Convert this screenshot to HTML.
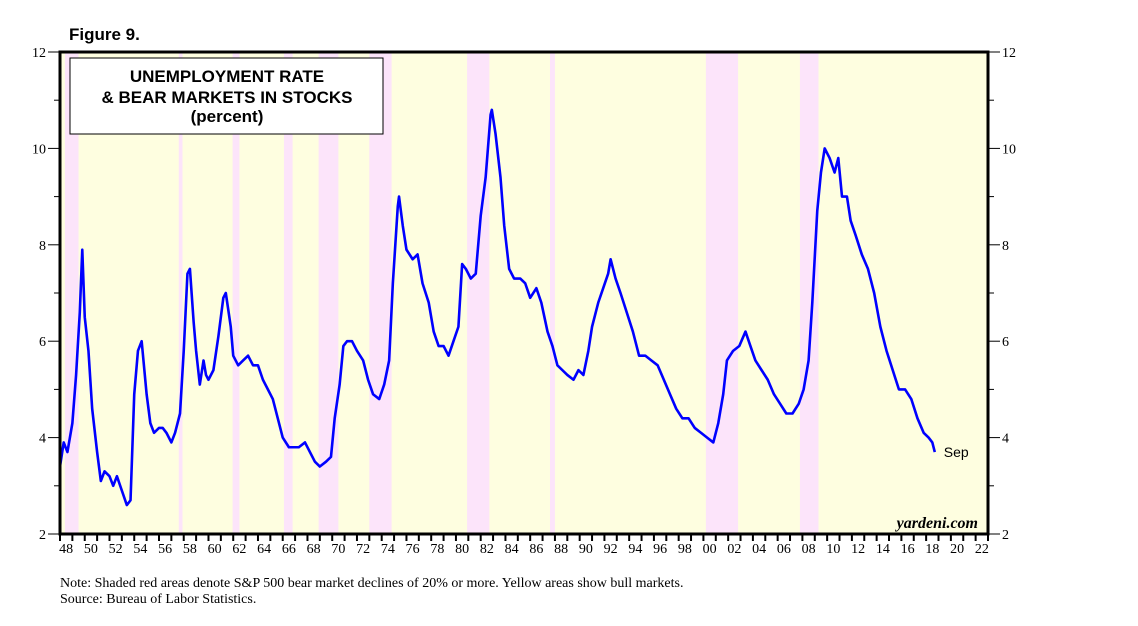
<!DOCTYPE html>
<html><head><meta charset="utf-8"><style>
body{margin:0;background:#fff;width:1138px;height:621px;overflow:hidden}
svg text{font-family:"Liberation Serif",serif}
</style></head><body>
<svg width="1138" height="621">
<script>
const bearStarts=[1948.4,1957.6,1961.95,1966.1,1968.9,1973.0,1980.9,1987.6,2000.2,2007.8];
const bearEnds=[1949.5,1957.9,1962.5,1966.8,1970.5,1974.8,1982.7,1988.0,2002.8,2009.3];
const years=[1948.0,1948.3,1948.6,1949.0,1949.3,1949.6,1949.8,1950.0,1950.3,1950.6,1951.0,1951.3,1951.6,1952.0,1952.3,1952.6,1953.0,1953.4,1953.7,1954.0,1954.3,1954.6,1955.0,1955.3,1955.6,1956.0,1956.3,1956.6,1957.0,1957.3,1957.7,1958.0,1958.3,1958.5,1958.8,1959.0,1959.3,1959.6,1959.8,1960.0,1960.4,1960.8,1961.2,1961.4,1961.8,1962.0,1962.4,1962.8,1963.2,1963.6,1964.0,1964.4,1964.8,1965.2,1965.6,1966.0,1966.5,1966.9,1967.3,1967.8,1968.2,1968.6,1969.0,1969.5,1969.9,1970.2,1970.6,1970.9,1971.2,1971.6,1972.0,1972.5,1972.9,1973.3,1973.8,1974.2,1974.6,1974.9,1975.3,1975.4,1975.7,1976.0,1976.5,1976.9,1977.3,1977.8,1978.2,1978.6,1979.0,1979.4,1979.8,1980.2,1980.5,1980.8,1981.2,1981.6,1982.0,1982.4,1982.8,1982.9,1983.2,1983.6,1983.9,1984.3,1984.7,1985.2,1985.6,1986.0,1986.5,1986.9,1987.4,1987.8,1988.2,1988.6,1989.0,1989.5,1989.9,1990.3,1990.7,1991.0,1991.5,1991.9,1992.3,1992.5,1992.9,1993.3,1993.8,1994.3,1994.8,1995.3,1995.8,1996.3,1996.8,1997.3,1997.8,1998.3,1998.8,1999.3,1999.8,2000.3,2000.8,2001.2,2001.6,2001.9,2002.4,2002.9,2003.4,2003.8,2004.2,2004.7,2005.2,2005.7,2006.2,2006.7,2007.2,2007.7,2008.1,2008.5,2008.8,2009.2,2009.5,2009.8,2010.2,2010.6,2010.9,2011.2,2011.6,2011.9,2012.3,2012.8,2013.3,2013.8,2014.3,2014.8,2015.3,2015.8,2016.3,2016.8,2017.3,2017.8,2018.2,2018.5,2018.7];
const rates=[3.4,3.9,3.7,4.3,5.3,6.6,7.9,6.5,5.8,4.6,3.7,3.1,3.3,3.2,3.0,3.2,2.9,2.6,2.7,4.9,5.8,6.0,4.9,4.3,4.1,4.2,4.2,4.1,3.9,4.1,4.5,5.8,7.4,7.5,6.4,5.8,5.1,5.6,5.3,5.2,5.4,6.1,6.9,7.0,6.3,5.7,5.5,5.6,5.7,5.5,5.5,5.2,5.0,4.8,4.4,4.0,3.8,3.8,3.8,3.9,3.7,3.5,3.4,3.5,3.6,4.4,5.1,5.9,6.0,6.0,5.8,5.6,5.2,4.9,4.8,5.1,5.6,7.2,8.8,9.0,8.4,7.9,7.7,7.8,7.2,6.8,6.2,5.9,5.9,5.7,6.0,6.3,7.6,7.5,7.3,7.4,8.6,9.4,10.7,10.8,10.3,9.4,8.4,7.5,7.3,7.3,7.2,6.9,7.1,6.8,6.2,5.9,5.5,5.4,5.3,5.2,5.4,5.3,5.8,6.3,6.8,7.1,7.4,7.7,7.3,7.0,6.6,6.2,5.7,5.7,5.6,5.5,5.2,4.9,4.6,4.4,4.4,4.2,4.1,4.0,3.9,4.3,4.9,5.6,5.8,5.9,6.2,5.9,5.6,5.4,5.2,4.9,4.7,4.5,4.5,4.7,5.0,5.6,6.8,8.7,9.5,10.0,9.8,9.5,9.8,9.0,9.0,8.5,8.2,7.8,7.5,7.0,6.3,5.8,5.4,5.0,5.0,4.8,4.4,4.1,4.0,3.9,3.7];
const yTicks=[2,4,6,8,10,12];
const xLabels=["48","50","52","54","56","58","60","62","64","66","68","70","72","74","76","78","80","82","84","86","88","90","92","94","96","98","00","02","04","06","08","10","12","14","16","18","20","22"];
const NS="http://www.w3.org/2000/svg";
const L=60,R=988,T=52,B=534,Y0=1948,Y1=2023,V0=2,V1=12;
const x=t=>L+(t-Y0)*(R-L)/(Y1-Y0);
const y=v=>B-(v-V0)*(B-T)/(V1-V0);
const svg=document.currentScript.parentNode;
function mk(tag,a,parent){const e=document.createElementNS(NS,tag);for(const k in a)e.setAttribute(k,a[k]);(parent||svg).appendChild(e);return e;}
const bg=mk('rect',{x:L,y:T,width:R-L,height:B-T,fill:'#fefee0'});


bearStarts.forEach((s,i)=>{const r=mk('rect',{x:x(s),y:T,width:x(bearEnds[i])-x(s),height:B-T,fill:'#fce4fa'});

});
// ticks
for(let v=V0;v<=V1;v++){const len=v%2==0?12:6;
mk('line',{x1:L-len,x2:L,y1:y(v),y2:y(v),stroke:'#000','stroke-width':1});
mk('line',{x1:R,x2:R+len,y1:y(v),y2:y(v),stroke:'#000','stroke-width':1});}
yTicks.forEach(v=>{const a=mk('text',{x:L-14,y:y(v)+5,'text-anchor':'end','font-size':14});a.textContent=v;


const b=mk('text',{x:R+14,y:y(v)+5,'font-size':14});b.textContent=v;

});
for(let t=Y0;t<=Y1;t++){mk('line',{x1:x(t),x2:x(t),y1:B,y2:B+7,stroke:'#000','stroke-width':2});}
xLabels.forEach((s,i)=>{const a=mk('text',{x:x(Y0+2*i+0.5),y:B+19,'text-anchor':'middle','font-size':14});a.textContent=s;

});
const line=mk('polyline',{points:years.map((t,i)=>x(t)+','+y(rates[i])).join(' '),fill:'none',stroke:'#0000ff','stroke-width':2.6,'stroke-linejoin':'round'});


const fr=mk('rect',{x:L,y:T,width:R-L,height:B-T,fill:'none',stroke:'#000','stroke-width':3});


const sep=mk('text',{x:x(years[years.length-1])+9,y:y(rates[rates.length-1])+5,'font-size':14,style:'font-family:"Liberation Sans",sans-serif'});sep.textContent='Sep';


</script>
<text x="69" y="40" font-size="17" font-weight="bold" style="font-family:'Liberation Sans',sans-serif">Figure 9.</text>
<rect x="70" y="58" width="313" height="76" fill="#fff" stroke="#000" stroke-width="1"/>
<g style="font-family:'Liberation Sans',sans-serif" font-weight="bold" font-size="17" text-anchor="middle">
<text x="227" y="82" style="font-family:'Liberation Sans',sans-serif">UNEMPLOYMENT RATE</text>
<text x="227" y="103" style="font-family:'Liberation Sans',sans-serif">&amp; BEAR MARKETS IN STOCKS</text>
<text x="227" y="122" style="font-family:'Liberation Sans',sans-serif">(percent)</text></g>
<text x="978" y="528" text-anchor="end" font-size="16" font-weight="bold" font-style="italic">yardeni.com</text>
<text x="60" y="587" font-size="14">Note: Shaded red areas denote S&amp;P 500 bear market declines of 20% or more. Yellow areas show bull markets.</text>
<text x="60" y="603" font-size="14">Source: Bureau of Labor Statistics.</text>
</svg>
</body></html>
